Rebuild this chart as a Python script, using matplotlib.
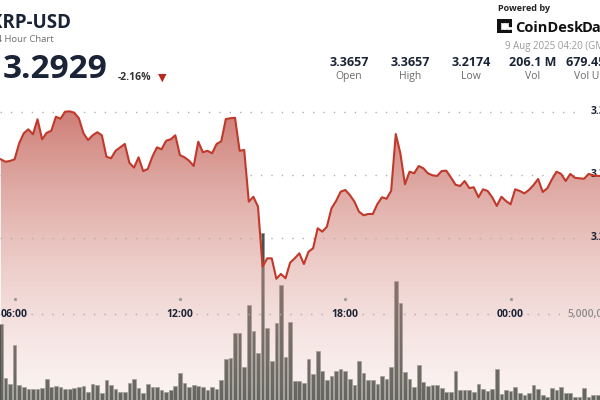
import numpy as np
import pandas as pd
import matplotlib
matplotlib.use('Agg')
import matplotlib.pyplot as plt
import matplotlib.dates as mdates
import matplotlib.transforms as mtrans
from matplotlib.patches import Rectangle

plt.rcParams['font.family'] = ['Open Sans', 'DejaVu Sans']

# XRP-USD, 10 minute candles (visible part of the 24h window)
times = pd.date_range('2025-08-08 05:30', periods=132, freq='10min')

price = [
    3.3122, 3.3103, 3.3109, 3.3122, 3.3249, 3.3329, 3.3360, 3.3321, 3.3440, 3.3281,
    3.3333, 3.3349, 3.3460, 3.3444, 3.3500, 3.3503, 3.3492, 3.3448, 3.3329, 3.3275,
    3.3313, 3.3337, 3.3313, 3.3143, 3.3130, 3.3190, 3.3217, 3.3244, 3.3095, 3.3056,
    3.3138, 3.3029, 3.3045, 3.3143, 3.3217, 3.3202, 3.3270, 3.3281, 3.3313, 3.3156,
    3.3138, 3.3111, 3.3069, 3.3262, 3.3178, 3.3190, 3.3170, 3.3244, 3.3265, 3.3442,
    3.3448, 3.3452, 3.3190, 3.3196, 3.2786, 3.2825, 3.2746, 3.2270, 3.2336, 3.2336,
    3.2174, 3.2212, 3.2178, 3.2302, 3.2336, 3.2376, 3.2291, 3.2389, 3.2416, 3.2575,
    3.2548, 3.2587, 3.2733, 3.2791, 3.2865, 3.2879, 3.2839, 3.2786, 3.2706, 3.2678,
    3.2688, 3.2688, 3.2767, 3.2821, 3.2809, 3.2873, 3.3323, 3.3170, 3.2924, 3.3024,
    3.3011, 3.3069, 3.3051, 3.3011, 3.2995, 3.2990, 3.3029, 3.3032, 3.2979, 3.2921,
    3.2910, 3.2950, 3.2894, 3.2900, 3.2821, 3.2884, 3.2871, 3.2821, 3.2752, 3.2825,
    3.2791, 3.2765, 3.2884, 3.2871, 3.2852, 3.2879, 3.2918, 3.2966, 3.2863, 3.2892,
    3.2963, 3.3024, 3.3006, 3.2950, 3.3006, 3.2976, 3.2971, 3.2968, 3.3006, 3.2995,
    3.2990, 3.2990]

# volume in millions of XRP
volume = [
    4.48, 1.67, 1.37, 3.40, 1.31, 1.20, 1.10, 1.10, 1.08, 1.17,
    1.60, 1.19, 1.27, 1.19, 1.08, 1.11, 1.13, 1.22, 1.25, 0.96,
    1.34, 1.31, 0.87, 1.58, 1.31, 1.08, 0.96, 0.96, 1.43, 1.64,
    1.13, 0.90, 1.37, 1.19, 1.19, 1.04, 0.96, 1.04, 1.25, 1.95,
    1.39, 1.19, 1.31, 1.25, 1.22, 1.04, 1.22, 1.08, 1.57, 2.68,
    2.70, 4.04, 4.01, 2.23, 5.50, 4.14, 2.99, 9.25, 4.27, 2.56,
    4.53, 6.53, 2.78, 4.61, 1.52, 1.52, 1.39, 2.65, 1.87, 3.10,
    2.05, 1.57, 1.78, 2.05, 2.13, 2.04, 1.60, 1.29, 2.56, 1.92,
    1.57, 1.57, 1.36, 1.78, 1.60, 2.23, 6.74, 5.57, 2.00, 1.60,
    1.19, 2.35, 1.48, 1.25, 1.29, 1.29, 1.17, 0.96, 0.96, 2.05,
    1.04, 1.04, 1.04, 0.96, 1.36, 1.08, 0.99, 1.10, 2.13, 0.84,
    1.04, 1.01, 1.22, 0.87, 0.78, 0.87, 1.31, 1.08, 0.77, 0.69,
    1.13, 1.04, 1.19, 0.87, 0.87, 0.69, 0.69, 1.13, 0.69, 0.78,
    0.78, 0.78]

time_ticks = pd.to_datetime(['2025-08-08 06:00', '2025-08-08 12:00',
                             '2025-08-08 18:00', '2025-08-09 00:00'])
time_labels = ['06:00', '12:00', '18:00', '00:00']
price_grid = [3.35, 3.30, 3.25]
vol_grid = 5.0
stat_values = ['3.3657', '3.3657', '3.2174', '206.1 M', '679.45 M']
stat_names = ['Open', 'High', 'Low', 'Vol', 'Vol USD']

navy = '#1b2436'
W, H = 600, 400


def fx(x):
    return x / W


def fy(y):
    return 1 - y / H


fig = plt.figure(figsize=(6, 4), dpi=100)
fig.patch.set_facecolor('white')

xs = mdates.date2num(times)
step = xs[1] - xs[0]
x_lo = xs[0] - 0.174 * step
x_hi = xs[0] + 130.47 * step
p_lo, p_hi = 3.12117, 3.43866
v_lo, v_hi = 0.522, 21.42   # volume baseline sits just below the picture

# volume axis (underneath)
ax_v = fig.add_axes([0, 0, 1, 1])
ax_v.bar(xs, volume, width=0.8 * step, color='#48524b', edgecolor='#8e978f',
         linewidth=0.5, zorder=2)
ax_v.set_xlim(x_lo, x_hi)
ax_v.set_ylim(v_lo, v_hi)
ax_v.axis('off')

# price axis (on top)
ax_p = fig.add_axes([0, 0, 1, 1])
ax_p.patch.set_alpha(0)

nrow = 400
yy = np.arange(nrow) + 0.5
tt = np.clip((yy - 100) / 300, 0, 1)
top = np.array([195, 95, 85]) / 255
bot = np.array([235, 195, 190]) / 255
rgba = np.zeros((nrow, 1, 4))
rgba[:, 0, :3] = top + (bot - top) * tt[:, None]
rgba[:, 0, 3] = 0.85 + (0.18 - 0.85) * tt
im = ax_p.imshow(rgba, extent=[x_lo, x_hi, p_lo, p_hi], aspect='auto',
                 origin='upper', zorder=1, interpolation='bilinear')
poly = ax_p.fill_between(xs, price, p_lo, color='none', lw=0)
im.set_clip_path(poly.get_paths()[0], transform=ax_p.transData)

for lv in price_grid:
    ax_p.axhline(lv, xmin=0, xmax=583 / W, color='#b0b0b0', lw=1,
                 linestyle=(0, (1, 6.5)), zorder=2)
    ax_p.text(591 / W, lv, f'{lv:.2f}', transform=mtrans.blended_transform_factory(
        ax_p.transAxes, ax_p.transData), ha='left', va='center', size=7.5,
        weight='bold', color=navy)

ax_p.plot(xs, price, color='#c0392b', lw=1.5, zorder=3, solid_joinstyle='round')

# volume gridline with gaps for the time labels
bt = mtrans.blended_transform_factory(ax_p.transData, ax_v.transData)
tk = mdates.date2num(time_ticks)
gap = 0.6 / 24
edges = [x_lo] + [v for t in tk for v in (t - gap, t + gap)] + [x_lo + (560 / W) * (x_hi - x_lo)]
for a, b in zip(edges[0::2], edges[1::2]):
    ax_p.plot([a, b], [vol_grid, vol_grid], transform=bt, color='#b8a8a6', lw=1,
              linestyle=(0, (1, 6.5)), zorder=2)
ax_p.text(567 / W, vol_grid, '5,000,000', transform=mtrans.blended_transform_factory(
    ax_p.transAxes, ax_v.transData), ha='left', va='center', size=7.5,
    weight='semibold', color='#8c8c8c')

tb = mtrans.blended_transform_factory(ax_p.transData, ax_p.transAxes)
ax_p.plot(tk, [fy(298.7)] * len(tk), 'o', ms=1.3, color='#9a9a9a', transform=tb, zorder=2)
for t, lab in zip(tk, time_labels):
    ax_p.text(t, fy(314.5), lab, transform=tb, ha='center', va='center', size=7.5,
              weight='bold', color=navy)

ax_p.set_xlim(x_lo, x_hi)
ax_p.set_ylim(p_lo, p_hi)
ax_p.axis('off')

# header
fig.text(fx(71), fy(28), 'XRP-USD', ha='right', va='baseline', size=13.5,
         weight='bold', color=navy)
fig.text(fx(54), fy(41.5), '24 Hour Chart', ha='right', va='baseline', size=6.8,
         color='#6f6f6f')
fig.text(fx(107), fy(77.5), '3.2929', ha='right', va='baseline', size=24,
         weight='bold', color=navy)
fig.text(fx(118), fy(80.5), '-2.16%', ha='left', va='baseline', size=7.5,
         weight='bold', color='#333333')
fig.text(fx(162), fy(78), '\u25bc', ha='center', va='center', size=8,
         color='#b8281e', family='DejaVu Sans')

fig.text(fx(498), fy(11), 'Powered by', ha='left', va='baseline', size=6.5,
         weight='bold', color='#222222')
fig.text(fx(515), fy(32.5), 'CoinDesk', ha='left', va='baseline', size=10.5,
         weight='bold', color='#111111')
fig.text(fx(582), fy(32.5), 'Data', ha='left', va='baseline', size=10.5,
         weight='bold', color='#111111')
fig.text(fx(505), fy(49.5), '9 Aug 2025 04:20 (GMT)', ha='left', va='baseline',
         size=7, color='#9a9a9a')

# logo icon
ax_i = fig.add_axes([fx(497), fy(33), 15 / W, 14 / H])
ax_i.set_xlim(0, 4)
ax_i.set_ylim(0, 4)
ax_i.axis('off')
icon = [[1, 1, 1, 1], [1, 0, 0, 1], [1, 0, 0, 0], [1, 1, 1, 1]]
for r, row in enumerate(icon):
    for c, on in enumerate(row):
        if on:
            ax_i.add_patch(Rectangle((c + 0.1, 3 - r + 0.1), 0.8, 0.8, color='#111111'))

for i, (val, name) in enumerate(zip(stat_values, stat_names)):
    cx = 349 + 61.1 * i
    fig.text(fx(cx), fy(66), val, ha='center', va='baseline', size=9,
             weight='bold', color=navy)
    fig.text(fx(cx), fy(79), name, ha='center', va='baseline', size=7.5,
             color='#6a6a6a')

fig.savefig('out.png', dpi=100)
